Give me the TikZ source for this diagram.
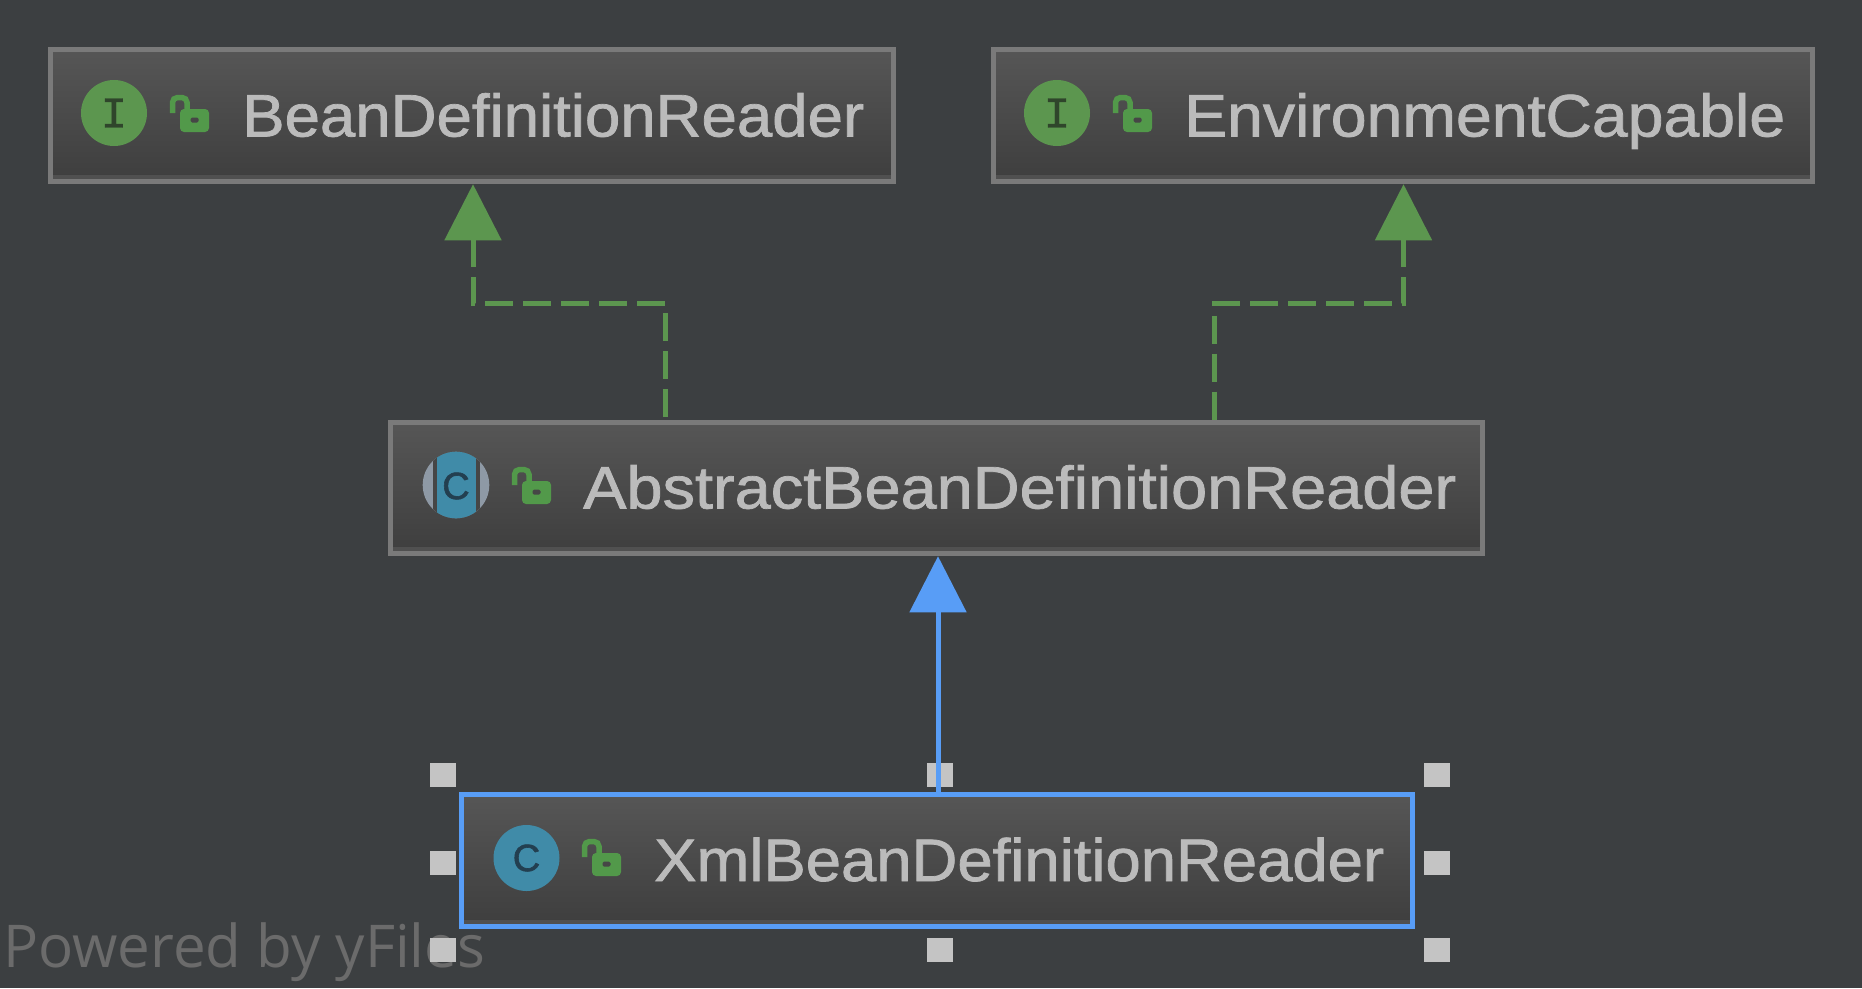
\documentclass[tikz,border=0pt]{standalone}
\usepackage{fontspec}
\setmainfont{Liberation Sans}
\newfontfamily\monoicon[FakeBold=0.8]{Liberation Mono}
\newfontfamily\cicon[FakeBold=1.5]{Liberation Sans}
\newfontfamily\lblfont[FakeBold=1.2]{Liberation Sans}
\newfontfamily\wmark{Open Sans}
\usetikzlibrary{arrows.meta}
\definecolor{bgcol}{HTML}{3C3F41}
\definecolor{boxtop}{HTML}{565656}
\definecolor{boxbot}{HTML}{3E3E3E}
\definecolor{stripcol}{HTML}{505050}
\definecolor{bordercol}{HTML}{7A7A7A}
\definecolor{txtcol}{HTML}{BBBBBB}
\definecolor{greencol}{HTML}{5C964F}
\definecolor{lockcol}{HTML}{52994A}
\definecolor{bluecol}{HTML}{589DF6}
\definecolor{handlecol}{HTML}{C4C4C4}
\definecolor{ccol}{HTML}{408BA8}
\definecolor{cdark}{HTML}{233F50}
\definecolor{idark}{HTML}{2F452B}
\definecolor{greycol}{HTML}{8E99A5}
\definecolor{gapcol}{HTML}{464646}
\definecolor{wmcol}{HTML}{6B6B6B}
\tikzset{
  x=1pt,y=-1pt,
  umlbox/.style={rectangle,draw=bordercol,line width=5.5pt,top color=boxtop,bottom color=boxbot,inner sep=0pt,minimum height=132pt},
  selbox/.style={umlbox,draw=bluecol},
  strip/.style={stripcol,line width=4.5pt},
  label/.style={inner sep=0pt,anchor=base west,text=txtcol},
  ibadge/.style={circle,fill=greencol,minimum size=66pt,inner sep=0pt,text=idark,font=\monoicon\fontsize{44}{44}\selectfont},
  cbadge/.style={circle,fill=ccol,minimum size=66pt,inner sep=0pt,text=cdark,font=\cicon\fontsize{38}{38}\selectfont},
  handlebox/.style={rectangle,fill=handlecol,minimum width=25.5pt,minimum height=24pt,inner sep=0pt},
  dep/.style={greencol,line width=5pt,dash pattern=on 28pt off 10pt,{Triangle[width=56pt,length=56pt]}-},
  ext/.style={bluecol,line width=5pt,-{Triangle[width=56pt,length=56pt]}},
  lockpic/.pic={
    \fill[lockcol,rounded corners=4pt] (10,14) rectangle (39,37);
    \draw[lockcol,line width=5.5pt,rounded corners=5pt] (2.5,18) -- (2.5,2.5) -- (17,2.5) -- (17,15);
    \fill[gapcol,rounded corners=1.5pt] (20.5,22.5) rectangle (28.5,27.5);
  }
}
\newcommand{\lbl}[2]{\resizebox{#1pt}{\height}{\lblfont\fontsize{60}{60}\selectfont #2}}
\begin{document}
\begin{tikzpicture}
\useasboundingbox (0,0) rectangle (1862,988);
\fill[bgcol] (0,0) rectangle (1862,988);

% watermark
\node[inner sep=0pt,anchor=base west,text=wmcol] (wm) at (3,967) {\resizebox{482pt}{\height}{\wmark\fontsize{59}{59}\selectfont Powered by yFiles}};

% boxes
\node[umlbox,minimum width=843pt] (bdr) at (472,115.5) {};
\node[umlbox,minimum width=819pt] (env) at (1403,115.5) {};
\node[umlbox,minimum width=1092pt,minimum height=131pt] (abr) at (936.5,488) {};
\node[selbox,minimum width=951pt] (xml) at (937,860.5) {};

\foreach \b in {bdr,env,abr,xml}{
  \draw[strip] ([xshift=5.5pt,yshift=7.5pt]\b.south west) -- ([xshift=-5.5pt,yshift=7.5pt]\b.south east);
}

% badges
\node[ibadge] (bdri) at (114,113) {I};
\node[ibadge] (envi) at (1057,113) {I};
\begin{scope}
  \clip (456,485) circle (33.3);
  \fill[greycol] (420,450) rectangle (492,520);
  \fill[gapcol] (433,450) rectangle (480,520);
  \fill[ccol] (436.7,450) rectangle (475.5,520);
\end{scope}
\node[inner sep=0pt,text=cdark,font=\cicon\fontsize{38}{38}\selectfont] (abrc) at (456,486) {C};
\node[cbadge] (xmlc) at (526.5,858) {C};

% locks
\pic at (170,95) {lockpic};
\pic at (1113,95) {lockpic};
\pic at (512,467) {lockpic};
\pic at (582,839) {lockpic};

% labels
\node[label] (bdrl) at (242,136.5) {\lbl{622}{BeanDefinitionReader}};
\node[label] (envl) at (1184,136.5) {\lbl{601}{EnvironmentCapable}};
\node[label] (abrl) at (583,508.5) {\lbl{873}{AbstractBeanDefinitionReader}};
\node[label] (xmll) at (654,881) {\lbl{730}{XmlBeanDefinitionReader}};

% handles
\node[handlebox] (h1) at (443,775) {};
\node[handlebox] (h2) at (940,775) {};
\node[handlebox] (h3) at (1437,775) {};
\node[handlebox] (h4) at (443,863) {};
\node[handlebox] (h5) at (1437,863) {};
\node[handlebox] (h6) at (443,950) {};
\node[handlebox] (h7) at (940,950) {};
\node[handlebox] (h8) at (1437,950) {};

% connectors
\coordinate (k1) at (665,303);
\coordinate (k2) at (1214,303);
\draw[dep] ([xshift=1pt]bdr.south) |- (k1) -- (k1 |- abr.north);
\draw[dep] ([xshift=.5pt]env.south) |- (k2) -- (k2 |- abr.north);
\draw[ext] ([xshift=1pt]xml.north) -- ([xshift=1pt]xml.north |- abr.south);
\end{tikzpicture}
\end{document}
